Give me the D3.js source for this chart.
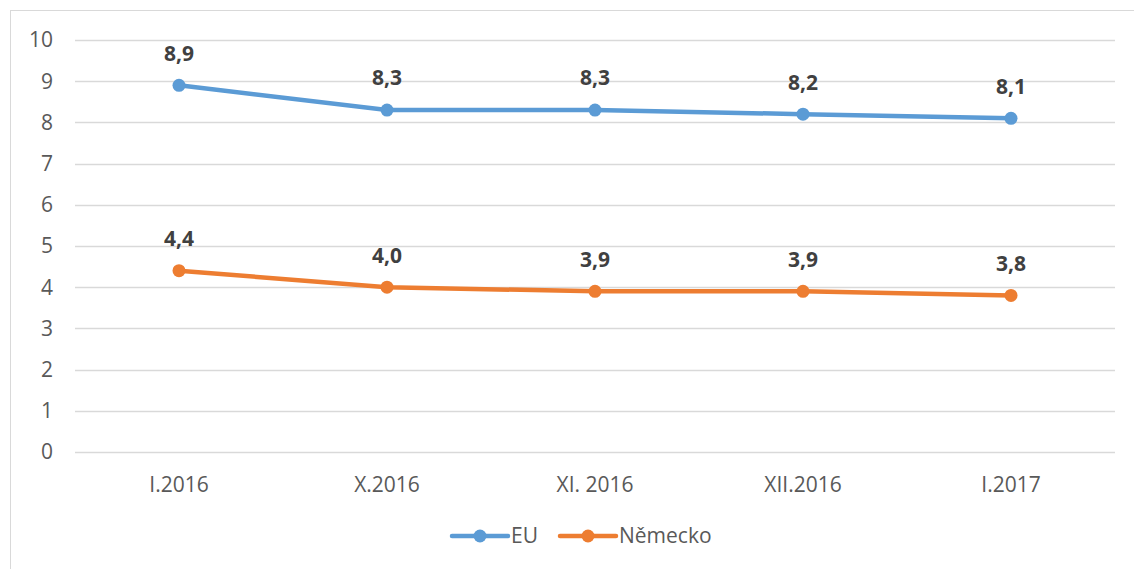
<!DOCTYPE html>
<html>
<head>
<meta charset="utf-8">
<script src="https://cdn.jsdelivr.net/npm/d3@7"></script>
<style>
  body { margin: 0; background: #fff; }
  svg { font-family: "Open Sans", "Liberation Sans", sans-serif; }
</style>
</head>
<body>
<div id="chart"></div>
<script>
// data
const categories = ["I.2016", "X.2016", "XI. 2016", "XII.2016", "I.2017"];
const euValues = [8.9, 8.3, 8.3, 8.2, 8.1];
const deValues = [4.4, 4.0, 3.9, 3.9, 3.8];
const seriesNames = ["EU", "Německo"];
const yTicks = [0, 1, 2, 3, 4, 5, 6, 7, 8, 9, 10];

const width = 1134, height = 569;
const colors = ["#5B9BD5", "#ED7D31"];

const svg = d3.select("#chart")
    .append("svg")
    .attr("width", width)
    .attr("height", height);

// outer chart border (cropped by viewport)
svg.append("rect")
    .attr("x", 10.5)
    .attr("y", 10.5)
    .attr("width", width + 20)
    .attr("height", height + 20)
    .style("fill", "none")
    .style("stroke", "#d9d9d9");

const x = d3.scaleBand()
    .domain(categories)
    .range([75, 1115]);

const y = d3.scaleLinear()
    .domain([0, 10])
    .range([452, 40]);

// gridlines
svg.append("g")
    .selectAll("line")
    .data(yTicks)
    .enter()
    .append("line")
    .attr("x1", 75)
    .attr("x2", 1115)
    .attr("y1", (d) => Math.round(y(d)) + 0.5)
    .attr("y2", (d) => Math.round(y(d)) + 0.5)
    .style("stroke", "#d9d9d9")
    .style("stroke-width", 1.3);

// y axis labels
svg.append("g")
    .selectAll("text")
    .data(yTicks)
    .enter()
    .append("text")
    .attr("x", 53)
    .attr("y", (d) => y(d))
    .attr("dy", "0.35em")
    .attr("text-anchor", "end")
    .style("fill", "#595959")
    .style("font-size", "21px")
    .text((d) => d);

// x axis labels
svg.append("g")
    .selectAll("text")
    .data(categories)
    .enter()
    .append("text")
    .attr("x", (d) => x(d) + x.bandwidth() / 2)
    .attr("y", 485)
    .attr("dy", "0.35em")
    .attr("text-anchor", "middle")
    .style("fill", "#595959")
    .style("font-size", "21px")
    .text((d) => d);

const cx = (d, i) => x(categories[i]) + x.bandwidth() / 2;
const line = d3.line()
    .x(cx)
    .y((d) => y(d));

[euValues, deValues].forEach((values, s) => {
    const g = svg.append("g");
    g.append("path")
        .datum(values)
        .attr("d", line)
        .style("fill", "none")
        .style("stroke", colors[s])
        .style("stroke-width", 4.5)
        .style("stroke-linecap", "round");
    g.selectAll("circle")
        .data(values)
        .enter()
        .append("circle")
        .attr("cx", cx)
        .attr("cy", (d) => y(d))
        .attr("r", 6.5)
        .style("fill", colors[s]);
    g.selectAll("text")
        .data(values)
        .enter()
        .append("text")
        .attr("x", cx)
        .attr("y", (d) => y(d) - 32)
        .attr("dy", "0.35em")
        .attr("text-anchor", "middle")
        .style("fill", "#404040")
        .style("font-size", "21px")
        .style("font-weight", "bold")
        .text((d) => d.toFixed(1).replace(".", ","));
});

// legend
const legendItems = [
    { x: 452, textX: 511 },
    { x: 560, textX: 619 }
];
legendItems.forEach((item, s) => {
    const lg = svg.append("g");
    lg.append("line")
        .attr("x1", item.x)
        .attr("x2", item.x + 56)
        .attr("y1", 536)
        .attr("y2", 536)
        .style("stroke", colors[s])
        .style("stroke-width", 4.5)
        .style("stroke-linecap", "round");
    lg.append("circle")
        .attr("cx", item.x + 28)
        .attr("cy", 536)
        .attr("r", 6.5)
        .style("fill", colors[s]);
    lg.append("text")
        .attr("x", item.textX)
        .attr("y", 536)
        .attr("dy", "0.35em")
        .style("fill", "#595959")
        .style("font-size", "21px")
        .text(seriesNames[s]);
});
</script>
</body>
</html>
